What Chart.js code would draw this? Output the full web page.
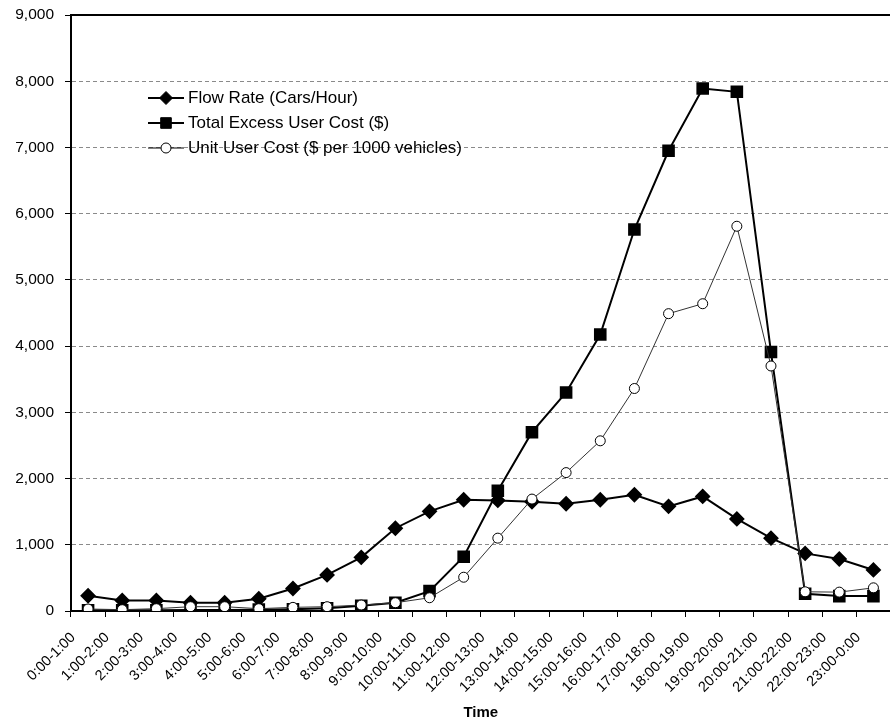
<!DOCTYPE html>
<html>
<head>
<meta charset="utf-8">
<script src="https://cdn.jsdelivr.net/npm/chart.js@4.4.1/dist/chart.umd.min.js"></script>
<style>
  html, body { margin: 0; padding: 0; background: #fff; overflow: hidden; }
  #wrap { width: 900px; height: 725px; }
</style>
</head>
<body>
<div id="wrap"><canvas id="traffic-chart" width="900" height="725"></canvas></div>
<script>
// hourly time slots
const hours = ['0:00-1:00', '1:00-2:00', '2:00-3:00', '3:00-4:00', '4:00-5:00', '5:00-6:00',
  '6:00-7:00', '7:00-8:00', '8:00-9:00', '9:00-10:00', '10:00-11:00', '11:00-12:00',
  '12:00-13:00', '13:00-14:00', '14:00-15:00', '15:00-16:00', '16:00-17:00', '17:00-18:00',
  '18:00-19:00', '19:00-20:00', '20:00-21:00', '21:00-22:00', '22:00-23:00', '23:00-0:00'];

// values
const flowRate = [230, 160, 160, 125, 125, 185, 340, 545, 810, 1250, 1505, 1680,
  1670, 1650, 1620, 1680, 1755, 1580, 1730, 1390, 1100, 870, 785, 620];
const totalCost = [10, 10, 10, 15, 15, 20, 25, 40, 80, 125, 300, 820,
  1815, 2700, 3300, 4175, 5760, 6950, 7890, 7840, 3910, 260, 225, 225];
const unitCost = [30, 20, 35, 65, 65, 35, 55, 65, 90, 125, 200, 510,
  1100, 1690, 2090, 2570, 3360, 4490, 4640, 5810, 3700, 290, 285, 350];

const FONT = '"Liberation Sans", Arial, Helvetica, sans-serif';

// legend drawn inside the plot, line + marker like the original
const insideLegend = {
    id: 'insideLegend',
    afterDraw(chart) {
        const ctx = chart.ctx;
        ctx.save();
        ctx.font = '17px ' + FONT;
        ctx.textBaseline = 'middle';
        chart.data.datasets.forEach((ds, i) => {
            const y = 98 + i * 25;
            ctx.strokeStyle = '#000';
            ctx.lineWidth = ds.borderWidth;
            ctx.beginPath();
            ctx.moveTo(148, y);
            ctx.lineTo(184, y);
            ctx.stroke();
            const x = 166;
            const r = ds.pointRadius;
            ctx.beginPath();
            if (ds.pointStyle === 'rectRot') {
                ctx.moveTo(x, y - r); ctx.lineTo(x + r, y); ctx.lineTo(x, y + r); ctx.lineTo(x - r, y); ctx.closePath();
            } else if (ds.pointStyle === 'rect') {
                const s = r * Math.SQRT1_2;
                ctx.rect(x - s, y - s, 2 * s, 2 * s);
            } else {
                ctx.arc(x, y, r, 0, Math.PI * 2);
            }
            ctx.fillStyle = ds.pointBackgroundColor;
            ctx.fill();
            ctx.lineWidth = 1;
            ctx.stroke();
            ctx.fillStyle = '#000';
            ctx.fillText(ds.label, 188, y);
        });
        ctx.restore();
    }
};

function main() {
    const canvas = document.querySelector('#traffic-chart');

    new Chart(canvas.getContext('2d'), {
        type: 'line',
        data: {
            labels: hours,
            datasets: [
                {
                    label: 'Flow Rate (Cars/Hour)',
                    data: flowRate,
                    borderColor: '#000',
                    borderWidth: 2,
                    pointStyle: 'rectRot',
                    pointRadius: 6.5,
                    pointBackgroundColor: '#000',
                    pointBorderColor: '#000',
                    order: 3
                },
                {
                    label: 'Total Excess User Cost ($)',
                    data: totalCost,
                    borderColor: '#000',
                    borderWidth: 2,
                    pointStyle: 'rect',
                    pointRadius: 7.5,
                    pointBackgroundColor: '#000',
                    pointBorderColor: '#000',
                    order: 2
                },
                {
                    label: 'Unit User Cost ($ per 1000 vehicles)',
                    data: unitCost,
                    borderColor: '#333',
                    borderWidth: 1,
                    pointStyle: 'circle',
                    pointRadius: 5,
                    pointBorderWidth: 1,
                    pointBackgroundColor: '#fff',
                    pointBorderColor: '#000',
                    order: 1
                }
            ]
        },
        options: {
            responsive: false,
            animation: false,
            devicePixelRatio: 1,
            locale: 'en-US',
            layout: { padding: { top: 15, right: 3, left: 0, bottom: 0 } },
            plugins: {
                legend: { display: false },
                tooltip: { enabled: false }
            },
            elements: { line: { tension: 0 } },
            scales: {
                x: {
                    type: 'category',
                    offset: true,
                    grid: { display: true, drawOnChartArea: false, drawTicks: true, tickLength: 6, offset: true, color: '#000' },
                    border: { display: true, color: '#000', width: 2 },
                    ticks: {
                        autoSkip: false,
                        minRotation: 45,
                        maxRotation: 45,
                        labelOffset: -15,
                        padding: 12,
                        color: '#000',
                        font: { family: FONT, size: 14.5 }
                    },
                    title: {
                        display: true,
                        text: 'Time',
                        color: '#000',
                        font: { family: FONT, size: 15, weight: 'bold' },
                        padding: { top: 0, bottom: 3 }
                    },
                    afterFit(scale) { scale.height = 114; }
                },
                x2: {
                    type: 'category',
                    position: 'top',
                    grid: { drawOnChartArea: false, drawTicks: false },
                    border: { display: true, color: '#000', width: 2 },
                    ticks: { display: false },
                    afterFit(scale) { scale.height = 0; }
                },
                y: {
                    min: 0,
                    max: 9000,
                    ticks: {
                        stepSize: 1000,
                        padding: 11,
                        color: '#000',
                        font: { family: FONT, size: 15.5 }
                    },
                    grid: { color: '#8a8a8a', lineWidth: 1, tickLength: 6, tickColor: '#000' },
                    border: { display: true, color: '#000', width: 2, dash: [4, 3] },
                    afterFit(scale) {
                        scale.width = 71;
                        scale.paddingTop = 0;
                        scale.paddingBottom = 0;
                    }
                }
            }
        },
        plugins: [insideLegend]
    });
}

main()
</script>
</body>
</html>
